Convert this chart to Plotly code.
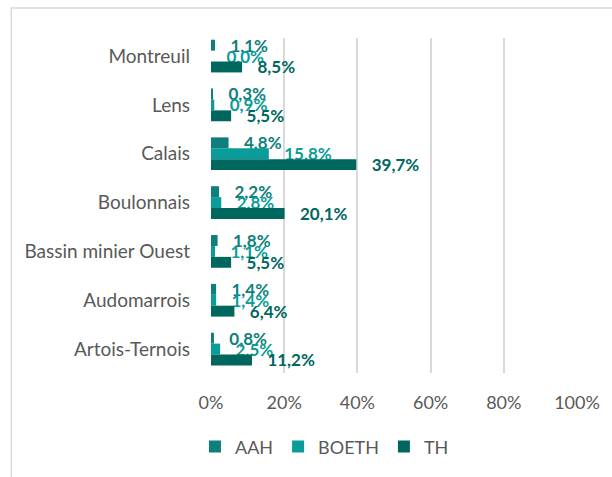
import plotly.graph_objects as go

# Territories (top to bottom) and shares per scheme, in percent
territoires = ["Montreuil", "Lens", "Calais", "Boulonnais",
               "Bassin minier Ouest", "Audomarrois", "Artois-Ternois"]
aah = [1.1, 0.3, 4.8, 2.2, 1.8, 1.4, 0.8]
boeth = [0.0, 0.9, 15.8, 2.8, 1.1, 1.4, 2.5]
th = [8.5, 5.5, 39.7, 20.1, 5.5, 6.4, 11.2]
x_ticks = [0, 20, 40, 60, 80, 100]
x_tick_labels = ["0%", "20%", "40%", "60%", "80%", "100%"]

series = [
    ("AAH", aah, "#0E7F7C"),
    ("BOETH", boeth, "#0A9C98"),
    ("TH", th, "#00675F"),
]

FONT = "Lato"
GRAY = "#595959"

fig = go.Figure()
for name, values, color in series:
    fig.add_trace(go.Bar(
        name=name,
        y=territoires,
        x=values,
        orientation="h",
        marker=dict(color=color, line=dict(width=0)),
        texttemplate="\u00a0\u00a0\u00a0%{x:.1f}%",
        textposition="outside",
        constraintext="none",
        cliponaxis=False,
        textfont=dict(family=FONT, size=17, color=color, weight="bold"),
        hoverinfo="skip",
    ))

fig.update_layout(
    width=612,
    height=477,
    margin=dict(l=211, r=29, t=38, b=104),
    paper_bgcolor="white",
    plot_bgcolor="white",
    barmode="group",
    bargap=0.33,
    bargroupgap=0,
    separators=", ",
    font=dict(family=FONT, color=GRAY, size=18),
    xaxis=dict(
        range=[0, 100],
        tickmode="array",
        tickvals=x_ticks,
        ticktext=x_tick_labels,
        showgrid=True,
        gridcolor="#D9D9D9",
        gridwidth=1.5,
        zeroline=False,
        showline=False,
        ticks="",
        ticklabelstandoff=17,
        tickfont=dict(family=FONT, size=18, color=GRAY),
        fixedrange=True,
    ),
    yaxis=dict(
        range=[6.49, -0.37],
        showgrid=False,
        zeroline=False,
        showline=False,
        ticks="",
        ticklabelstandoff=20,
        tickfont=dict(family=FONT, size=19, color=GRAY),
        fixedrange=True,
    ),
    legend=dict(
        orientation="h",
        x=0.31,
        xanchor="center",
        y=-0.165,
        yanchor="top",
        font=dict(family=FONT, size=18, color=GRAY),
        traceorder="normal",
        itemsizing="constant",
    ),
    showlegend=True,
    shapes=[
        # chart frame
        dict(type="rect", xref="paper", yref="paper",
             x0=-0.5457, x1=1.2, y0=-0.5, y1=1.0896,
             line=dict(color="#D9D9D9", width=1.5),
             fillcolor="rgba(0,0,0,0)", layer="below"),
    ],
)

fig.write_html("out.html")
